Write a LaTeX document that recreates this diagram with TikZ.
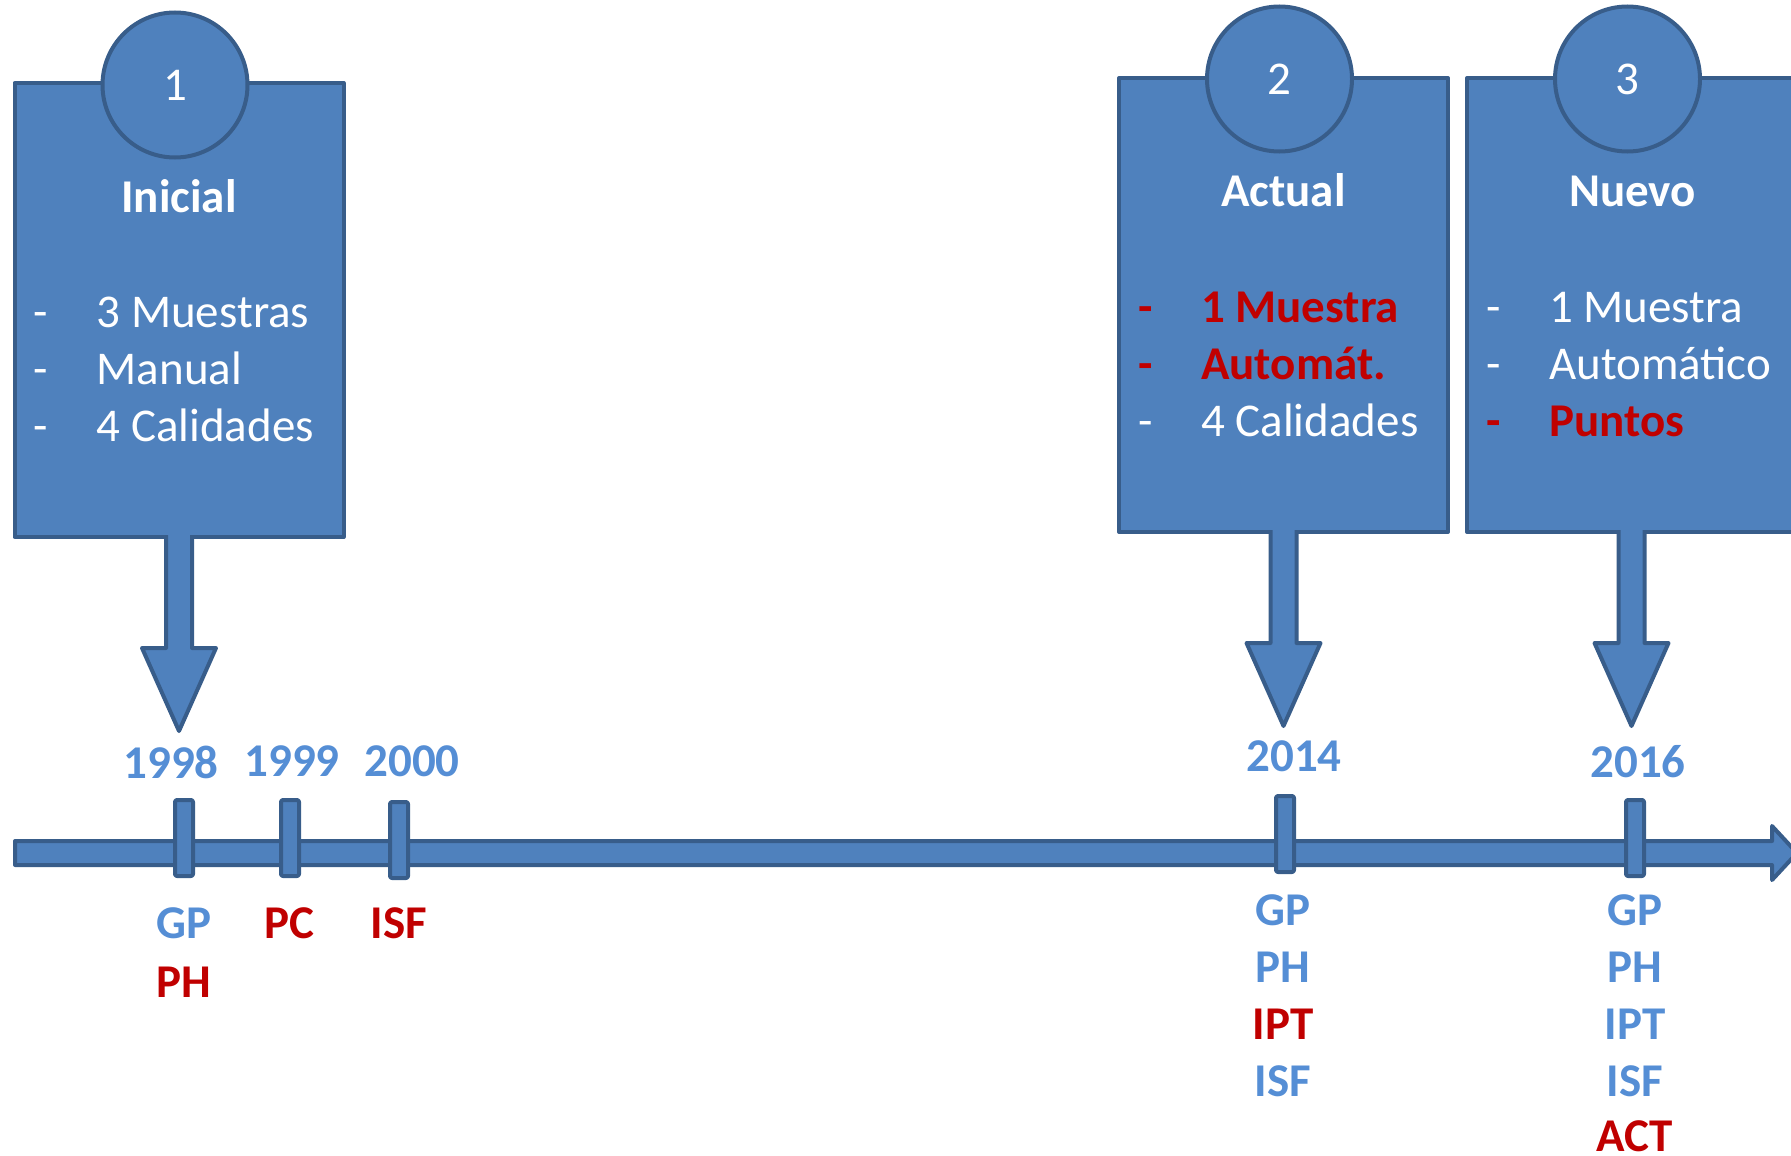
\documentclass[tikz,border=0pt]{standalone}
\usepackage{fontspec}
\setmainfont{Carlito}
\usetikzlibrary{positioning}

\definecolor{boxfill}{HTML}{4F81BD}
\definecolor{boxline}{HTML}{385D8A}
\definecolor{yearblue}{HTML}{558ED5}
\definecolor{hilite}{HTML}{C00000}

\newcommand\bigtxt{\fontsize{47}{57}\selectfont}
\newcommand\dash[1]{\makebox[63pt][l]{-}#1}
\newcommand\downstem[1]{%
  \filldraw[bar] ([xshift=-13pt,yshift=4pt]#1.south) -- ++(0,113) -- ++(-24,0)
    -- ++(37,83) -- ++(37,-83) -- ++(-24,0) -- ++(0,-113);}

\tikzset{
  bar/.style={draw=boxline, fill=boxfill, line width=4pt},
  box/.style={bar, rectangle, minimum width=329pt, minimum height=454pt, inner sep=0pt},
  numcirc/.style={bar, circle, minimum size=145pt, inner sep=0pt, text=white},
  tick/.style={bar, rectangle, rounded corners=2pt, minimum width=18pt, minimum height=76pt, inner sep=0pt},
  title/.style={text=white, font=\bigtxt\bfseries, anchor=base, inner sep=0pt},
  entry/.style={text=white, anchor=base west, inner sep=0pt},
  hot/.style={entry, text=hilite, font=\bigtxt\bfseries},
  year/.style={text=yearblue, font=\bigtxt\bfseries, anchor=base, inner sep=0pt},
  tag/.style={year},
  newtag/.style={year, text=hilite}
}

\begin{document}
\begin{tikzpicture}[x=1pt,y=-1pt,line join=round,font=\bigtxt]
\path[use as bounding box] (0,0) rectangle (1791,1156);

% time line
\coordinate (tstart) at (15,853);
\coordinate (tend) at (1797,853);
\draw[bar] ([yshift=12pt]tstart) -- ([xshift=-25pt,yshift=12pt]tend)
  -- ([xshift=-25pt,yshift=27pt]tend) -- (tend)
  -- ([xshift=-25pt,yshift=-27pt]tend) -- ([xshift=-25pt,yshift=-12pt]tend)
  -- ([yshift=-12pt]tstart) -- cycle;

\node[tick] (k1998) at (184,838) {};
\node[tick] (k1999) at (290,838) {};
\node[tick] (k2000) at (399,840) {};
\node[tick] (k2014) at (1285,834) {};
\node[tick] (k2016) at (1635,838) {};

% years
\node[year] (y1998) at (171,778) {1998};
\node[year] (y1999) at (292,776) {1999};
\node[year] (y2000) at (412,776) {2000};
\node[year] (y2014) at (1294,771) {2014};
\node[year] (y2016) at (1638,777) {2016};

% indices per year
\node[tag] (gp98) at (184,938) {GP};
\node[newtag] (ph98) at (184,997) {PH};
\node[newtag] (pc99) at (289,938) {PC};
\node[newtag] (isf00) at (399,938) {ISF};
\node[tag] (gp14) at (1283,925) {GP};
\node[tag] (ph14) at (1283,982) {PH};
\node[newtag] (ipt14) at (1283,1039) {IPT};
\node[tag] (isf14) at (1283,1096) {ISF};
\node[tag] (gp16) at (1635,925) {GP};
\node[tag] (ph16) at (1635,982) {PH};
\node[tag] (ipt16) at (1635,1039) {IPT};
\node[tag] (isf16) at (1635,1096) {ISF};
\node[newtag] (act16) at (1635,1151) {ACT};

% stages
\node[box] (b1) at (179,310) {};
\node[box] (b2) at (1283.5,305) {};
\node[box, right=15pt of b2] (b3) {};

\downstem{b1}
\downstem{b2}
\downstem{b3}

\node[numcirc] (c1) at ([xshift=-4pt,yshift=-4pt]b1.north) {1};
\node[numcirc] (c2) at ([xshift=-4pt,yshift=-3pt]b2.north) {2};
\node[numcirc] (c3) at ([xshift=-4pt,yshift=-3pt]b3.north) {3};

\node[title] (t1) at ([yshift=-131pt]b1.north) {Inicial};
\node[title] (t2) at ([yshift=-130pt]b2.north) {Actual};
\node[title] (t3) at ([yshift=-130pt,xshift=1pt]b3.north) {Nuevo};

\node[entry] (e11) at ([xshift=21pt,yshift=-246pt]b1.north west) {\dash{3 Muestras}};
\node[entry] (e12) at ([xshift=21pt,yshift=-303pt]b1.north west) {\dash{Manual}};
\node[entry] (e13) at ([xshift=21pt,yshift=-360pt]b1.north west) {\dash{4 Calidades}};

\node[hot] (e21) at ([xshift=21pt,yshift=-246pt]b2.north west) {\dash{1 Muestra}};
\node[hot] (e22) at ([xshift=21pt,yshift=-303pt]b2.north west) {\dash{Automát.}};
\node[entry] (e23) at ([xshift=21pt,yshift=-360pt]b2.north west) {\dash{4 Calidades}};

\node[entry] (e31) at ([xshift=21pt,yshift=-246pt]b3.north west) {\dash{1 Muestra}};
\node[entry] (e32) at ([xshift=21pt,yshift=-303pt]b3.north west) {\dash{Automático}};
\node[hot] (e33) at ([xshift=21pt,yshift=-360pt]b3.north west) {\dash{Puntos}};
\end{tikzpicture}
\end{document}
